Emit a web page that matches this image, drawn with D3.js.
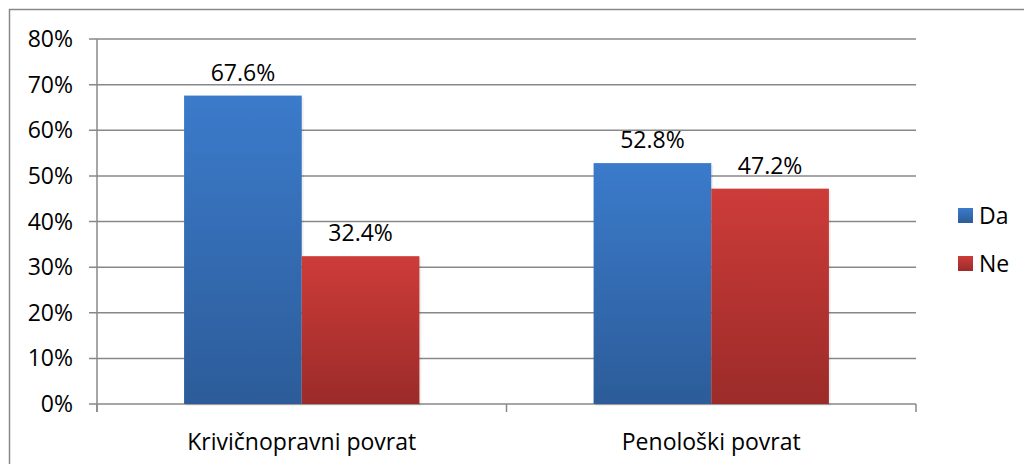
<!DOCTYPE html>
<html>
<head>
<meta charset="utf-8">
<script src="https://cdn.jsdelivr.net/npm/d3@7"></script>
<style>
  body { margin: 0; background: #fff; }
  text { font-family: "Open Sans", "Noto Sans", sans-serif; fill: #000; }
</style>
</head>
<body>
<div id="chart"></div>
<script>
var categories = ["Krivičnopravni povrat", "Penološki povrat"];
var seriesNames = ["Da", "Ne"];
var daValues = [67.6, 52.8];
var neValues = [32.4, 47.2];
var yTicks = [0, 10, 20, 30, 40, 50, 60, 70, 80];

var W = 1024, H = 464;
var margin = { top: 39, left: 97 };
var plotW = 916 - 97, plotH = 404 - 39;
var fs = 23;

var svg = d3.select("#chart").append("svg").attr("width", W).attr("height", H);

// outer chart border (only top/left visible in frame)
svg.append("rect").attr("x", 9.5).attr("y", 9.5).attr("width", 1040).attr("height", 480)
  .attr("fill", "none").attr("stroke", "#888").attr("stroke-width", 1.5);

var defs = svg.append("defs");
function grad(id, top, bottom) {
  var g = defs.append("linearGradient").attr("id", id).attr("x1", 0).attr("y1", 0).attr("x2", 0).attr("y2", 1);
  g.append("stop").attr("offset", "0%").attr("stop-color", top);
  g.append("stop").attr("offset", "100%").attr("stop-color", bottom);
}
grad("gDa", "#3b7bcb", "#2c5c99");
grad("gNe", "#cd3c39", "#9b2b29");
var fills = { Da: "url(#gDa)", Ne: "url(#gNe)" };

var g = svg.append("g").attr("transform", "translate(" + margin.left + "," + margin.top + ")");

var x0 = d3.scaleBand().domain(categories).range([0, plotW]).paddingInner(0).paddingOuter(0);
var x1 = d3.scaleBand().domain(seriesNames).range([0, x0.bandwidth()]).paddingOuter(0.74).paddingInner(0);
var y = d3.scaleLinear().domain([0, 80]).range([plotH, 0]);

// gridlines
g.selectAll("line.grid").data(yTicks).join("line")
  .attr("x1", -8).attr("x2", plotW)
  .attr("y1", function (d) { return y(d); }).attr("y2", function (d) { return y(d); })
  .attr("stroke", "#888").attr("stroke-width", 1.5);

// y axis line
g.append("line").attr("x1", 0).attr("x2", 0).attr("y1", 0).attr("y2", plotH + 8)
  .attr("stroke", "#888").attr("stroke-width", 1.5);

// x ticks
var xTickPos = [0, x0.bandwidth(), plotW];
g.selectAll("line.xt").data(xTickPos).join("line")
  .attr("x1", function (d) { return d; }).attr("x2", function (d) { return d; })
  .attr("y1", plotH).attr("y2", plotH + 8)
  .attr("stroke", "#888").attr("stroke-width", 1.5);

// y labels
g.selectAll("text.yl").data(yTicks).join("text")
  .attr("x", -24).attr("y", function (d) { return y(d); }).attr("dy", "0.35em")
  .attr("text-anchor", "end").attr("font-size", fs)
  .text(function (d) { return d + "%"; });

var data = categories.map(function (c, i) {
  return { cat: c, vals: [{ k: "Da", v: daValues[i] }, { k: "Ne", v: neValues[i] }] };
});

var groups = g.selectAll("g.cat").data(data).join("g")
  .attr("transform", function (d) { return "translate(" + x0(d.cat) + ",0)"; });

// soft shadows
groups.selectAll("rect.sh").data(function (d) { return d.vals; }).join("rect")
  .attr("x", function (d) { return x1(d.k) + 2; })
  .attr("y", function (d) { return y(d.v) + 2; })
  .attr("width", x1.bandwidth())
  .attr("height", function (d) { return plotH - y(d.v); })
  .attr("fill", "#000").attr("opacity", 0.06);

groups.selectAll("rect.bar").data(function (d) { return d.vals; }).join("rect")
  .attr("x", function (d) { return x1(d.k); })
  .attr("y", function (d) { return y(d.v); })
  .attr("width", x1.bandwidth())
  .attr("height", function (d) { return plotH - y(d.v); })
  .attr("fill", function (d) { return fills[d.k]; });

groups.selectAll("text.val").data(function (d) { return d.vals; }).join("text")
  .attr("x", function (d) { return x1(d.k) + x1.bandwidth() / 2; })
  .attr("y", function (d) { return y(d.v) - 15; })
  .attr("text-anchor", "middle").attr("font-size", fs)
  .text(function (d) { return d.v.toFixed(1) + "%"; });

// category labels
g.selectAll("text.cat").data(categories).join("text")
  .attr("x", function (d) { return x0(d) + x0.bandwidth() / 2; })
  .attr("y", plotH + 46)
  .attr("text-anchor", "middle").attr("font-size", fs)
  .text(function (d) { return d; });

// legend
var legend = svg.append("g").attr("transform", "translate(958,208)");
var li = legend.selectAll("g").data(seriesNames).join("g")
  .attr("transform", function (d, i) { return "translate(0," + (i * 48) + ")"; });
li.append("rect").attr("width", 15).attr("height", 15).attr("fill", function (d) { return fills[d]; });
li.append("text").attr("x", 21).attr("y", 8).attr("dy", "0.36em").attr("font-size", fs)
  .text(function (d) { return d; });
</script>
</body>
</html>
